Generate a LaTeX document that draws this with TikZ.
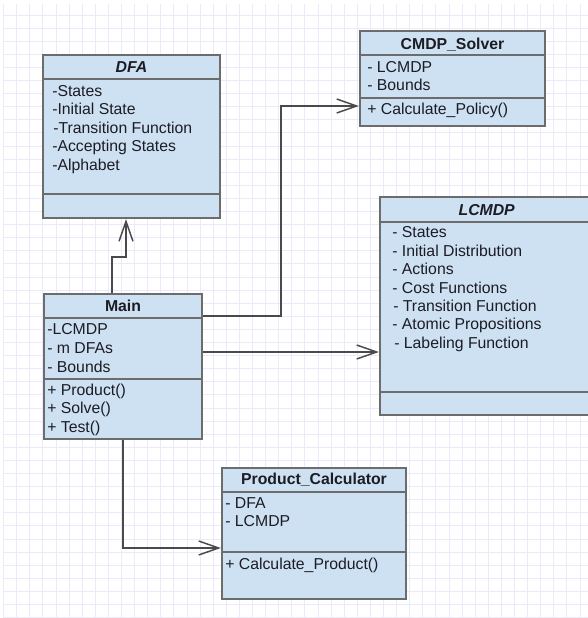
\documentclass[tikz,border=0pt]{standalone}
\usepackage{fontspec}
\setmainfont{Liberation Sans}
\usetikzlibrary{arrows.meta,fit}
\definecolor{boxfill}{RGB}{206,225,243}
\definecolor{boxline}{RGB}{108,108,108}
\definecolor{gridc}{RGB}{234,234,251}
\definecolor{conn}{RGB}{74,74,74}
\definecolor{txt}{RGB}{28,28,36}
\begin{document}
\begin{tikzpicture}[x=0.75pt,y=-0.75pt,
 classbox/.style={draw=boxline, fill=boxfill, line width=1.65pt, inner sep=0pt},
 sepline/.style={draw=boxline, line width=1.65pt},
 attr/.style={anchor=base west, inner sep=0pt, text=txt, font=\fontsize{11.85pt}{14pt}\selectfont},
 hdr/.style={anchor=base, inner sep=0pt, text=txt, font=\fontsize{11.85pt}{14pt}\selectfont\bfseries},
 hdri/.style={hdr, font=\fontsize{11.85pt}{14pt}\selectfont\bfseries\itshape},
 dep/.style={draw=conn, line width=1.1pt, -{Straight Barb[length=15pt,width=10.5pt]}}]
\useasboundingbox (0,0) rectangle (588,618);
\clip (0,0) rectangle (588,618);
\fill[white] (0,0) rectangle (588,618);
\foreach \k in {0,...,44} \draw[gridc, line width=0.75pt] ({3.6+13.1*\k},4) -- ({3.6+13.1*\k},618);
\foreach \k in {0,...,46} \draw[gridc, line width=0.75pt] (4,{15+13.1*\k}) -- (588,{15+13.1*\k});

% DFA
\node[classbox, fit={(43,55) (220,218)}] (dfa) {};
\draw[sepline] (43,79) -- (220,79);
\draw[sepline] (43,194) -- (220,194);
\node[hdri] (dfah) at (131.5,72) {DFA};
\node[attr] (dfa1) at (52,96) {-States};
\node[attr] (dfa2) at (52,114.5) {-Initial State};
\node[attr] (dfa3) at (53,133) {-Transition Function};
\node[attr] (dfa4) at (52,151.5) {-Accepting States};
\node[attr] (dfa5) at (52,170) {-Alphabet};

% CMDP_Solver
\node[classbox, fit={(360,31) (545,126)}] (cmdp) {};
\draw[sepline] (360,55) -- (545,55);
\draw[sepline] (360,98) -- (545,98);
\node[hdr] (cmdph) at (452.5,49) {CMDP\_Solver};
\node[attr] (cmdp1) at (367,72.5) {- LCMDP};
\node[attr] (cmdp2) at (367,90.5) {- Bounds};
\node[attr] (cmdp3) at (367,114.5) {+ Calculate\_Policy()};

% LCMDP
\node[classbox, fit={(380,197) (593,415)}] (lcmdp) {};
\draw[sepline] (380,222) -- (593,222);
\draw[sepline] (380,392) -- (593,392);
\node[hdri] (lcmdph) at (486.7,215.5) {LCMDP};
\node[attr] (l1) at (392,237.5) {- States};
\node[attr] (l2) at (392,256.5) {- Initial Distribution};
\node[attr] (l3) at (392,274.5) {- Actions};
\node[attr] (l4) at (392,293.5) {- Cost Functions};
\node[attr] (l5) at (393,311.5) {- Transition Function};
\node[attr] (l6) at (392,329.5) {- Atomic Propositions};
\node[attr] (l7) at (394,348.5) {- Labeling Function};

% Main
\node[classbox, fit={(44,294) (202,439)}] (main) {};
\draw[sepline] (44,318) -- (202,318);
\draw[sepline] (44,379) -- (202,379);
\node[hdr] (mainh) at (123,311.5) {Main};
\node[attr] (m1) at (47,334.5) {-LCMDP};
\node[attr] (m2) at (47,353.5) {- m DFAs};
\node[attr] (m3) at (47,372.5) {- Bounds};
\node[attr] (m4) at (47,395.5) {+ Product()};
\node[attr] (m5) at (47,413.5) {+ Solve()};
\node[attr] (m6) at (47,432.5) {+ Test()};

% Product_Calculator
\node[classbox, fit={(222,468) (406,599)}] (prod) {};
\draw[sepline] (222,492) -- (406,492);
\draw[sepline] (222,552) -- (406,552);
\node[hdr] (prodh) at (314,484.5) {Product\_Calculator};
\node[attr] (p1t) at (225,508.5) {- DFA};
\node[attr] (p2t) at (225,526.5) {- LCMDP};
\node[attr] (p3t) at (225,569.5) {+ Calculate\_Product()};

% connectors
\coordinate (j1) at (112,257);
\coordinate (j2) at (126,257);
\draw[dep] (main.north -| j1) -- (j1) -- (j2) -- (dfa.south -| j2);
\coordinate (k1) at (281,316);
\coordinate (k2) at (281,106);
\draw[dep] (main.east |- k1) -- (k1) -- (k2) -- (cmdp.west |- k2);
\coordinate (q1) at (0,352);
\draw[dep] (main.east |- q1) -- (lcmdp.west |- q1);
\coordinate (r1) at (123,548);
\draw[dep] (main.south -| r1) -- (r1) -- (prod.west |- r1);
\end{tikzpicture}
\end{document}
